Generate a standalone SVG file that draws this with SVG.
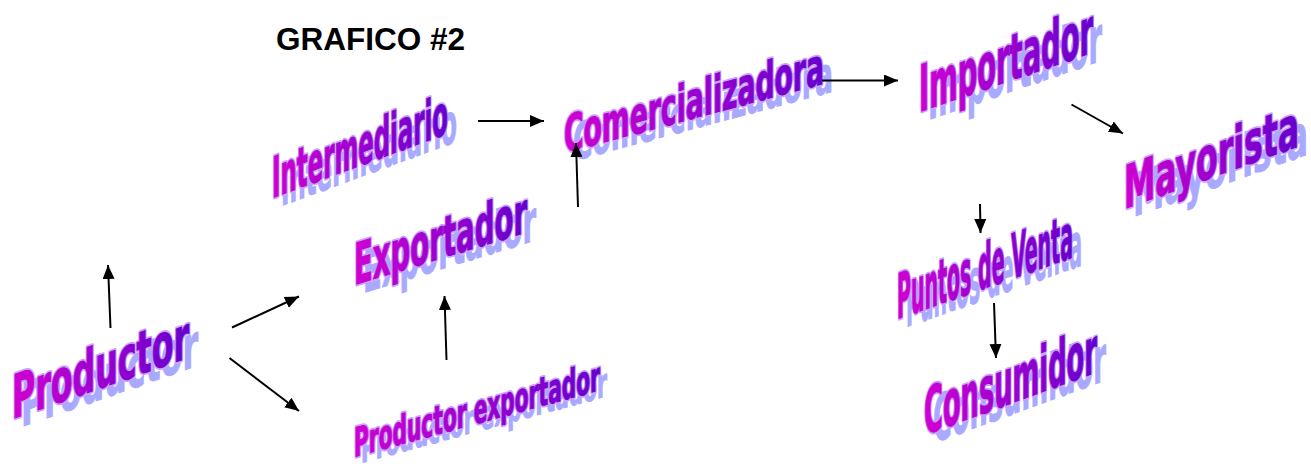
<svg xmlns="http://www.w3.org/2000/svg" xmlns:xlink="http://www.w3.org/1999/xlink" width="1311" height="472" viewBox="0 0 1311 472">
  <style>
    .title { font-family: "Liberation Sans", Arial, sans-serif; font-weight: bold; font-size: 31.5px; fill: #000; }
    .wa { font-family: "DejaVu Sans Condensed", "DejaVu Sans", sans-serif; font-weight: bold; }
    .rim { fill: #c9a3ff; stroke: #c9a3ff; stroke-width: 4.5; stroke-linejoin: round; }
    .art { fill: url(#artFill); stroke: url(#artFill); stroke-width: 1; stroke-linejoin: round; }
    .shadow { fill: #a9a9ff; stroke: #a9a9ff; stroke-width: 1; }
    .conn line { stroke: #000; stroke-width: 2; fill: none; marker-end: url(#head); }
  </style>
  <defs>
    <linearGradient id="artFill" x1="0" y1="0" x2="1" y2="0">
      <stop offset="0" stop-color="#d000d0"/>
      <stop offset="1" stop-color="#6600cc"/>
    </linearGradient>
    <marker id="head" markerUnits="userSpaceOnUse" markerWidth="15" markerHeight="13" refX="14" refY="6" orient="auto">
      <path d="M0,0 L14,6 L0,12 Z" fill="#000"/>
    </marker>
    <!-- slanted word-art labels: width fixed by textLength, rise by skewY -->
    <text id="t-productor" class="wa" font-size="60" textLength="177" lengthAdjust="spacingAndGlyphs" transform="translate(12,419) skewY(-19.2)">Productor</text>
    <text id="t-intermediario" class="wa" font-size="56" textLength="176" lengthAdjust="spacingAndGlyphs" transform="translate(272,198) skewY(-20.2)">Intermediario</text>
    <text id="t-exportador" class="wa" font-size="57" textLength="173" lengthAdjust="spacingAndGlyphs" transform="translate(354,285) skewY(-17)">Exportador</text>
    <text id="t-comercializadora" class="wa" font-size="51" textLength="260" lengthAdjust="spacingAndGlyphs" transform="translate(564,153) skewY(-15)">Comercializadora</text>
    <text id="t-importador" class="wa" font-size="64" textLength="174" lengthAdjust="spacingAndGlyphs" transform="translate(919,112) skewY(-18.9)">Importador</text>
    <text id="t-mayorista" class="wa" font-size="59" textLength="175" lengthAdjust="spacingAndGlyphs" transform="translate(1124,209) skewY(-19.8)">Mayorista</text>
    <text id="t-prodexp" class="wa" font-size="40" textLength="246" lengthAdjust="spacingAndGlyphs" transform="translate(354,457) skewY(-15.2)">Productor exportador</text>
    <text id="t-puntos" class="wa" font-size="62" textLength="176" lengthAdjust="spacingAndGlyphs" transform="translate(897,319) skewY(-19.3)">Puntos de Venta</text>
    <text id="t-consumidor" class="wa" font-size="64" textLength="173" lengthAdjust="spacingAndGlyphs" transform="translate(924,435) skewY(-20)">Consumidor</text>
  </defs>

  <text class="title" x="276" y="50">GRAFICO #2</text>

  <g id="productor">
    <use xlink:href="#t-productor" class="shadow" transform="translate(9,8)"/>
    <use xlink:href="#t-productor" class="rim"/>
    <use xlink:href="#t-productor" class="art"/>
  </g>
  <g id="intermediario">
    <use xlink:href="#t-intermediario" class="shadow" transform="translate(9,8)"/>
    <use xlink:href="#t-intermediario" class="rim"/>
    <use xlink:href="#t-intermediario" class="art"/>
  </g>
  <g id="exportador">
    <use xlink:href="#t-exportador" class="shadow" transform="translate(9,8)"/>
    <use xlink:href="#t-exportador" class="rim"/>
    <use xlink:href="#t-exportador" class="art"/>
  </g>
  <g id="comercializadora">
    <use xlink:href="#t-comercializadora" class="shadow" transform="translate(9,8)"/>
    <use xlink:href="#t-comercializadora" class="rim"/>
    <use xlink:href="#t-comercializadora" class="art"/>
  </g>
  <g id="importador">
    <use xlink:href="#t-importador" class="shadow" transform="translate(9,8)"/>
    <use xlink:href="#t-importador" class="rim"/>
    <use xlink:href="#t-importador" class="art"/>
  </g>
  <g id="mayorista">
    <use xlink:href="#t-mayorista" class="shadow" transform="translate(9,8)"/>
    <use xlink:href="#t-mayorista" class="rim"/>
    <use xlink:href="#t-mayorista" class="art"/>
  </g>
  <g id="productor-exportador">
    <use xlink:href="#t-prodexp" class="shadow" transform="translate(7,6)"/>
    <use xlink:href="#t-prodexp" class="rim"/>
    <use xlink:href="#t-prodexp" class="art"/>
  </g>
  <g id="puntos-de-venta">
    <use xlink:href="#t-puntos" class="shadow" transform="translate(9,8)"/>
    <use xlink:href="#t-puntos" class="rim"/>
    <use xlink:href="#t-puntos" class="art"/>
  </g>
  <g id="consumidor">
    <use xlink:href="#t-consumidor" class="shadow" transform="translate(9,8)"/>
    <use xlink:href="#t-consumidor" class="rim"/>
    <use xlink:href="#t-consumidor" class="art"/>
  </g>

  <g id="connectors" class="conn">
    <line x1="110.5" y1="328" x2="108" y2="265"/>
    <line x1="232" y1="327.5" x2="299" y2="296.5"/>
    <line x1="229.5" y1="358" x2="299" y2="411"/>
    <line x1="446.5" y1="360" x2="444.5" y2="296"/>
    <line x1="478" y1="121" x2="544" y2="121"/>
    <line x1="578" y1="207" x2="576" y2="143"/>
    <line x1="822" y1="80.5" x2="898" y2="80.5"/>
    <line x1="1071.5" y1="104.5" x2="1123" y2="133.5"/>
    <line x1="980" y1="204" x2="980.5" y2="233"/>
    <line x1="994" y1="303" x2="996" y2="358"/>
  </g>
</svg>
